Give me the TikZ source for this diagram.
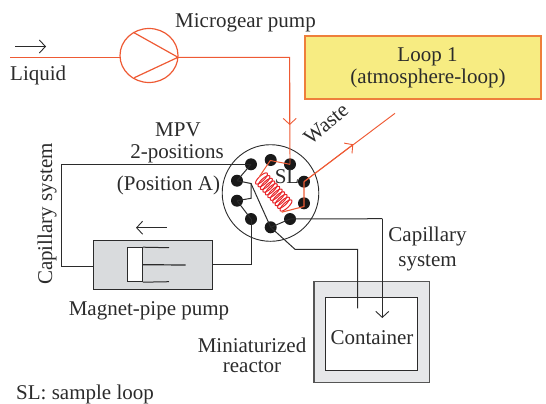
\documentclass[tikz,border=0pt]{standalone}
\usepackage{fontspec}
\setmainfont{Liberation Serif}
\usetikzlibrary{arrows.meta,shapes.geometric}
\definecolor{ored}{HTML}{EE5A34}
\definecolor{coilred}{HTML}{E8262A}
\definecolor{ink}{HTML}{2B2B2B}
\definecolor{loopfill}{HTML}{F7EC82}
\definecolor{loopedge}{HTML}{EE7F3B}
\definecolor{pumpfill}{HTML}{D9DBDD}
\definecolor{reactfill}{HTML}{E6E7E9}
\tikzset{
  lab/.style={text=ink,font=\fontsize{21}{24}\selectfont,inner sep=0pt,anchor=base},
  pipe/.style={draw=ink,line width=1pt,line join=miter},
  lipe/.style={draw=ored,line width=0.95pt},
  vee/.style={-{Straight Barb[length=6pt,width=13pt,line width=0.9pt]}},
  dot/.style={circle,fill=black!90,inner sep=0pt,minimum size=12pt},
  coilloop/.style={draw=coilred,line width=1pt},
}
\begin{document}
\begin{tikzpicture}[x=1pt,y=-1pt]
\useasboundingbox (0,0) rectangle (546,404);
% Loop box
\node[draw=loopedge,fill=loopfill,line width=1.2pt,minimum width=236pt,minimum height=63pt,inner sep=0pt] (loopbox) at (423,67.5) {};
\node[lab] (loopa) at (427.5,61.5) {Loop 1};
\node[lab] (loopb) at (428,83) {(atmosphere-loop)};
% Pump (microgear)
\node[draw=ored,line width=1.2pt,ellipse,minimum width=58pt,minimum height=54pt,inner sep=0pt] (mg) at (149,55.5) {};
\coordinate (mgE) at (178,57.3);
\coordinate (mgW) at (120,57.3);
\coordinate (mgA) at (133.3,32.3);
\coordinate (mgB) at (134.3,77.7);
\draw[draw=ored,line width=1.2pt] (mgA) -- (mgE) -- (mgB);
\coordinate (inlet) at (10,57.3);
\draw[lipe] (inlet) -- (mgW);
\coordinate (arrA) at (15,46.5);
\coordinate (arrB) at (46,46.5);
\draw[pipe,vee] (arrA) -- (arrB);
\node[lab,anchor=base west] (liquid) at (10,81) {Liquid};
\node[lab,anchor=base west] (microgear) at (175,28) {Microgear pump};
% MPV
\node[draw=ink,line width=0.9pt,circle,minimum size=96.6pt,inner sep=0pt] (mpvc) at (270.5,193) {};
\node[dot] (d1) at (251,164.3) {};
\node[dot] (d2) at (270.7,160) {};
\node[dot] (d3) at (290,164.3) {};
\node[dot] (d4) at (304,181.7) {};
\node[dot] (d5) at (304,203.3) {};
\node[dot] (d6) at (290,219) {};
\node[dot] (d7) at (270.7,227.3) {};
\node[dot] (d8) at (251,219) {};
\node[dot] (d9) at (237,200.7) {};
\node[dot] (d10) at (237,180.7) {};
\coordinate (kink) at (251,183.5);
\coordinate (kinkb) at (251,198.3);
\draw[pipe] (d10.center) -- (d1.center);
\draw[pipe] (d10.center) -- (kink) -- (kinkb) -- (d9.center);
\draw[pipe] (kink) -- (d7.center);
\draw[pipe] (d9.center) -- (d8.center);
\draw[pipe] (d7.center) -- (d6.center);
% Sample loop
\foreach \t in {0,...,10}{
  \draw[coilloop,rotate around={-47:(261.5+2.45*\t,178.5+2.7*\t)}] (261.5+2.45*\t,178.5+2.7*\t) ellipse [x radius=2.7,y radius=7.8];
}
\coordinate (cA) at (270.3,160.5);
\coordinate (cB) at (281.7,212.2);
\coordinate (cC) at (259.3,176.7);
\coordinate (cD) at (304,206.5);
\coordinate (cE) at (304,181.7);
\draw[draw=ored,line width=1pt] (d3.center) -- (cA) -- (cC);
\draw[draw=ored,line width=1.1pt] (cB) -- (cD) -- (cE);
\node[lab] (sl) at (287,183) {SL};
\coordinate (mgcorner) at (289.7,57.3);
\draw[lipe] (mgE) -- (mgcorner) -- (d3.center);
\coordinate (downtip) at (289.7,125);
\draw[lipe,vee] (mgcorner) -- (downtip);
\coordinate (wasteend) at (395,113.3);
\coordinate (wastetip) at (353.3,144.3);
\draw[lipe] (cE) -- (wasteend);
\draw[lipe,vee] (cE) -- (wastetip);
\node[lab,rotate=40,anchor=center] (waste) at (326,124) {Waste};
\node[lab] (mpv) at (178,136) {MPV};
\node[lab] (pos) at (177,158) {2-positions};
\node[lab] (posa) at (168.5,190) {(Position A)};
% Magnet pump
\node[draw=ink,fill=pumpfill,line width=1pt,minimum width=119.5pt,minimum height=49.3pt,inner sep=0pt] (magpump) at (153,264.7) {};
\node[draw=ink,fill=white,line width=1pt,minimum width=14.6pt,minimum height=34pt,inner sep=0pt] (piston) at (135,264.7) {};
\coordinate (rodA) at (169,247.7);
\coordinate (rodB) at (169,281.7);
\coordinate (rodC) at (185.7,265);
\draw[pipe] (piston.north east) -- (rodA);
\draw[pipe] (piston.south east) -- (rodB);
\draw[pipe,line width=1.2pt] (piston.east) -- (rodC);
\coordinate (maA) at (166.7,227.7);
\coordinate (maB) at (136,227.7);
\draw[pipe,vee] (maA) -- (maB);
\coordinate (capTL) at (61.7,164.3);
\coordinate (capBL) at (61.7,266.7);
\coordinate (magIn) at (93.3,266.7);
\draw[pipe] (d1.center) -- (capTL) -- (capBL) -- (magIn);
\coordinate (magOut) at (213,264);
\coordinate (magCorner) at (251,264);
\draw[pipe] (magOut) -- (magCorner) -- (d8.center);
\node[lab,rotate=90,anchor=base] (capv) at (52,214) {Capillary system};
\node[lab] (magtxt) at (149,315) {Magnet-pipe pump};
% Reactor
\node[draw=ink!80,fill=reactfill,line width=1.2pt,minimum width=115.3pt,minimum height=101pt,inner sep=0pt] (reactor) at (371.7,332.2) {};
\node[draw=ink,fill=white,line width=1pt,minimum width=92pt,minimum height=73pt,inner sep=0pt] (container) at (371.7,334.2) {};
\node[lab] (conttxt) at (372,344) {Container};
\coordinate (b1) at (295,249.3);
\coordinate (b2) at (357.7,249.3);
\coordinate (b3) at (357.7,308.3);
\draw[pipe] (d7.center) -- (b1) -- (b2) -- (b3);
\coordinate (c1) at (382.3,218.7);
\coordinate (c2) at (382.3,318);
\draw[pipe] (d6.center) -- (c1);
\draw[pipe,vee] (c1) -- (c2);
\node[lab] (cap1) at (427.5,241.5) {Capillary};
\node[lab] (cap2) at (427.5,266.5) {system};
\node[lab] (mini1) at (252,352) {Miniaturized};
\node[lab] (mini2) at (252,372.5) {reactor};
\node[lab,anchor=base west] (sltxt) at (16,399) {SL: sample loop};
\end{tikzpicture}
\end{document}
